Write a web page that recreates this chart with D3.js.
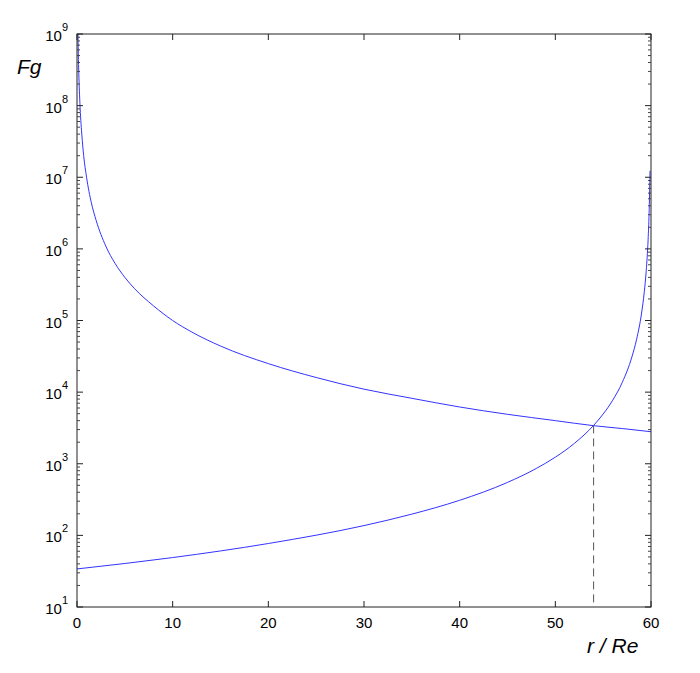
<!DOCTYPE html>
<html><head><meta charset="utf-8">
<script src="https://cdn.jsdelivr.net/npm/d3@7"></script>
<style>body{margin:0;background:#fff}svg{font-family:"Liberation Sans",Arial,sans-serif}</style>
</head><body><svg id="c" width="700" height="673"></svg>
<script>
const earthR = [0.1,0.15,0.2,0.3,0.5,0.7,1,1.5,2,3,4,5,6,8,10,12,15,20,25,30,35,40,45,50,54,57,60];
const earthF = [1e9,4.4e8,2.5e8,1.1e8,4e7,2e7,1e7,4.4e6,2.5e6,1.1e6,6.2e5,4e5,2.8e5,1.6e5,1e5,6.9e4,4.4e4,2.5e4,1.6e4,1.1e4,8.2e3,6.2e3,4.9e3,4e3,3.4e3,3.1e3,2.8e3];
const moonR = [0,10,20,30,35,40,45,48,50,52,54,55,56,57,58,58.5,59,59.3,59.5,59.7,59.8,59.9];
const moonF = [34,49,77,137,198,309,549,858,1235,1930,3430,4940,7720,13700,30900,54900,123000,252000,494000,1.37e6,3.09e6,1.23e7];
const xTicks = [0,10,20,30,40,50,60];
const yExps = [1,2,3,4,5,6,7,8,9];
const crossR = 54, crossF = 3430;

const L=77,R=651,T=34,B=607;
const svg=d3.select("#c");
const x=d3.scaleLinear().domain([0,60]).range([L,R]);
const y=d3.scaleLog().domain([10,1e9]).range([B,T]);
const g=svg.append("g");
const line=d3.line().x(d=>x(d[0])).y(d=>y(d[1])).curve(d3.curveMonotoneX);
g.append("path").datum(earthR.map((r,i)=>[r,earthF[i]])).attr("d",line).attr("fill","none").attr("stroke","#3333ff").attr("stroke-width",1);
g.append("path").datum(moonR.map((r,i)=>[r,moonF[i]])).attr("d",line).attr("fill","none").attr("stroke","#3333ff").attr("stroke-width",1);
g.append("line").attr("x1",x(crossR)).attr("x2",x(crossR)).attr("y1",y(crossF)).attr("y2",B)
 .attr("stroke","#555").attr("stroke-dasharray","8,5").attr("stroke-width",1);
g.append("rect").attr("x",L).attr("y",T).attr("width",R-L).attr("height",B-T).attr("fill","none").attr("stroke","#222").attr("stroke-width",1);
xTicks.forEach(t=>{
  g.append("line").attr("x1",x(t)).attr("x2",x(t)).attr("y1",B).attr("y2",B-6).attr("stroke","#222");
  g.append("line").attr("x1",x(t)).attr("x2",x(t)).attr("y1",T).attr("y2",T+6).attr("stroke","#222");
  g.append("text").attr("x",x(t)).attr("y",B+21).attr("text-anchor","middle").attr("font-size",15).text(t);
});
yExps.forEach(e=>{
  const v=Math.pow(10,e);
  [[L,1],[R,-1]].forEach(([x0,s])=>{
    g.append("line").attr("x1",x0).attr("x2",x0+s*6).attr("y1",y(v)).attr("y2",y(v)).attr("stroke","#222");
    if(e<9) for(let k=2;k<10;k++){
      g.append("line").attr("x1",x0).attr("x2",x0+s*3).attr("y1",y(k*v)).attr("y2",y(k*v)).attr("stroke","#444");
    }
  });
  const tx=g.append("text").attr("x",68).attr("y",y(v)+7).attr("text-anchor","end").attr("font-size",15);
  tx.append("tspan").text("10");
  tx.append("tspan").attr("dy",-10).attr("font-size",11).text(e);
});
svg.append("text").attr("x",17).attr("y",74).attr("font-size",21).attr("font-style","italic").text("Fg");
svg.append("text").attr("x",587).attr("y",653).attr("font-size",21).attr("font-style","italic").text("r / Re");
</script></body></html>
